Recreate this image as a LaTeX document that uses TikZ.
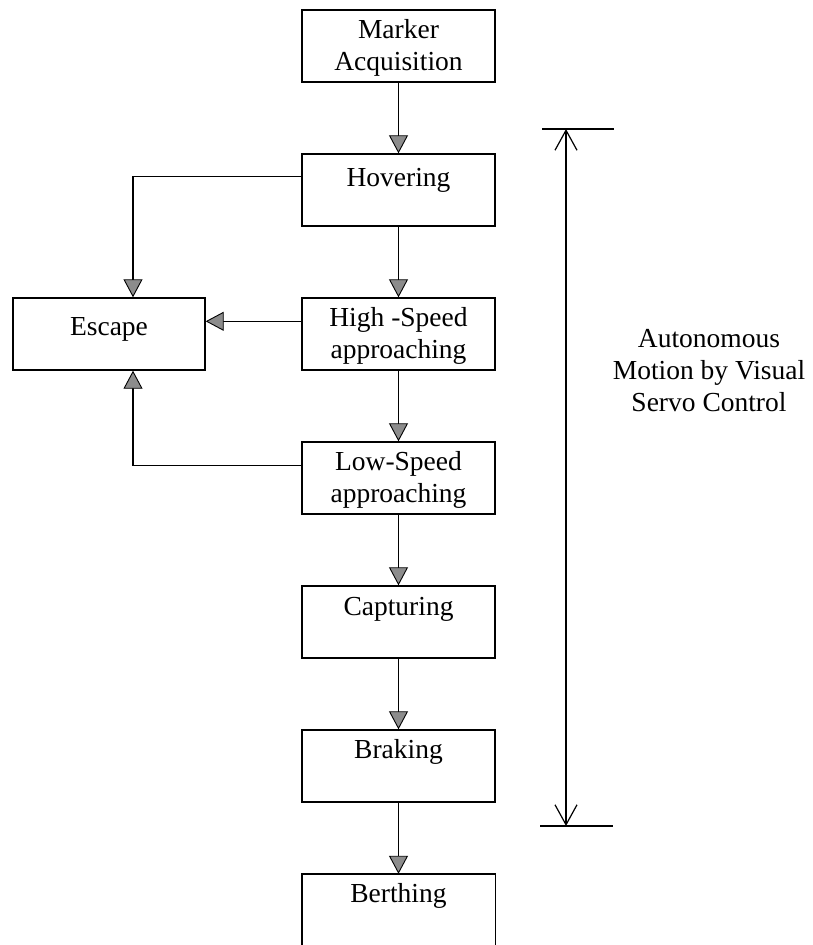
\documentclass[tikz,border=0pt]{standalone}
\usepackage{fontspec}
\setmainfont{Liberation Serif}
\usetikzlibrary{arrows.meta}
\newcommand{\bxt}[2]{\parbox[c][72pt][t]{190pt}{\centering\rule{0pt}{#1}#2\par\vfill}}
\begin{document}
\begin{tikzpicture}[x=1pt,y=-1pt,
  every node/.style={font=\fontsize{27.5}{32}\selectfont},
  stepbox/.style={draw, line width=1.4pt, inner sep=0pt, minimum width=193pt, minimum height=72pt},
  openbox/.style={inner sep=0pt, minimum width=193pt, minimum height=72pt},
  arr/.style={line width=1.2pt, -{Triangle[length=18pt,width=19pt,fill=black!45,line width=0.9pt]}},
  dim/.style={line width=1.2pt, {Straight Barb[length=20pt,width=22pt,line width=1.2pt]}-{Straight Barb[length=20pt,width=22pt,line width=1.2pt]}},
  tick/.style={line width=1.2pt}]
\useasboundingbox (0,0) rectangle (812,945);
\node[stepbox] (mark) at (398.5,46) {\bxt{28pt}{Marker\\Acquisition}};
\node[stepbox] (hov) at (398.5,190) {\bxt{32pt}{Hovering}};
\node[stepbox] (high) at (398.5,334) {\bxt{28pt}{High -Speed\\approaching}};
\node[stepbox] (low) at (398.5,478) {\bxt{28pt}{Low-Speed\\approaching}};
\node[stepbox] (capt) at (398.5,622) {\bxt{29pt}{Capturing}};
\node[stepbox] (brak) at (398.5,766) {\bxt{28pt}{Braking}};
\node[openbox] (berth) at (398.5,910) {\bxt{28pt}{Berthing}};
\draw[line width=1.4pt] (berth.south west) -- (berth.north west) -- (berth.north east) -- (berth.south east);
\node[stepbox, minimum width=192pt] (esc) at (109,334) {\bxt{37pt}{Escape}};
% main flow
\draw[arr] (mark.south) -- (hov.north);
\draw[arr] (hov.south) -- (high.north);
\draw[arr] (high.south) -- (low.north);
\draw[arr] (low.south) -- (capt.north);
\draw[arr] (capt.south) -- (brak.north);
\draw[arr] (brak.south) -- (berth.north);
% escape connectors
\draw[arr] ([yshift=-23pt]hov.north west) -| ([xshift=24pt]esc.north);
\draw[arr] ([yshift=-24pt]high.north west) coordinate (h1) -- (esc.east |- h1);
\draw[arr] ([yshift=-24pt]low.north west) -| ([xshift=24pt]esc.south);
% dimension line
\coordinate (dtop) at (566,129);
\coordinate (dbot) at (566,826);
\draw[dim] (dtop) -- (dbot);
\draw[tick] ([xshift=-24pt]dtop) -- ([xshift=48pt]dtop);
\draw[tick] ([xshift=-26pt]dbot) -- ([xshift=47pt]dbot);
\node[align=center, inner sep=0pt] (lab) at (709,371) {Autonomous\\Motion by Visual\\Servo Control};
\end{tikzpicture}
\end{document}
